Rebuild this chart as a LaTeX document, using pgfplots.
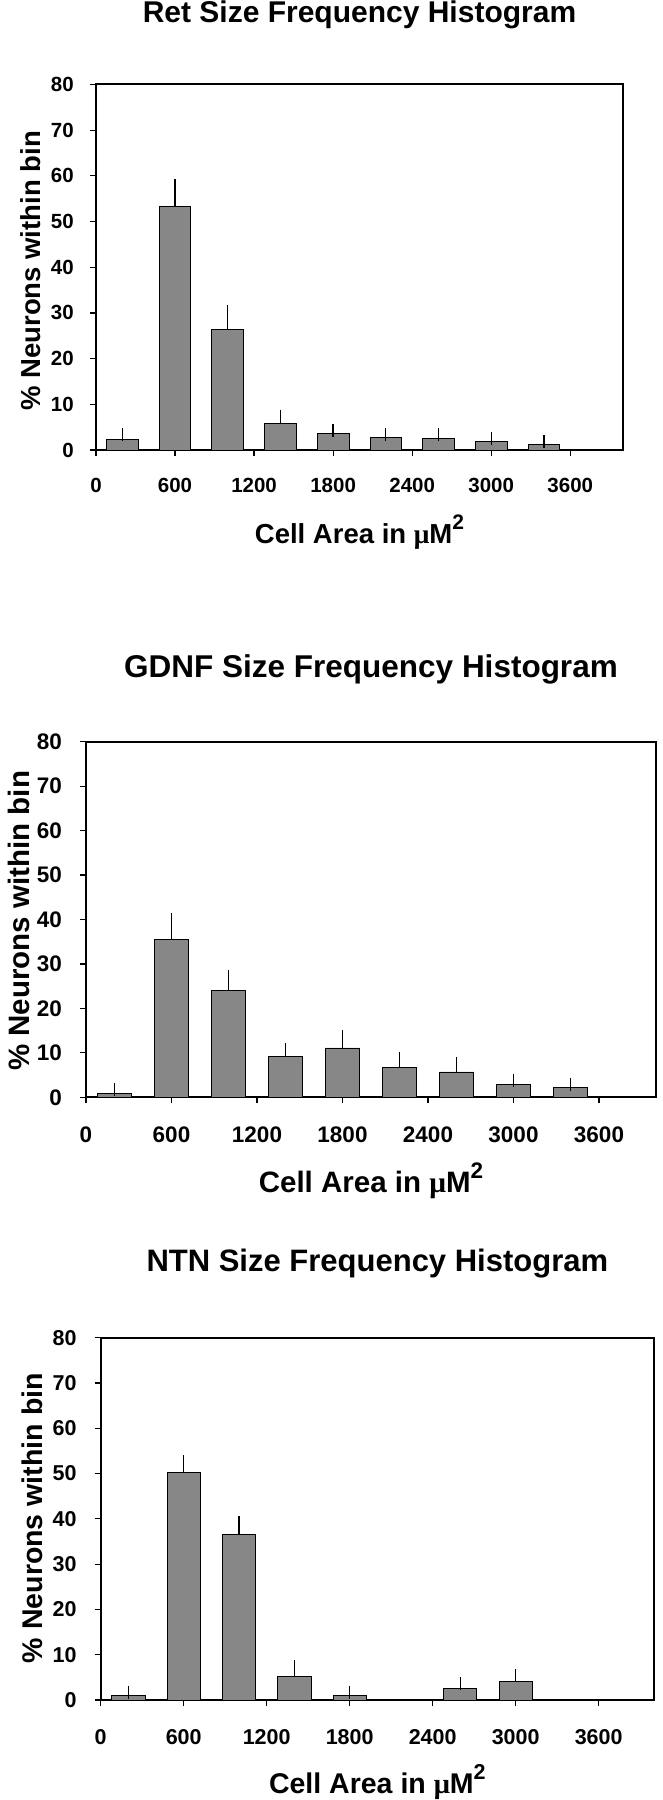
\documentclass[border=0pt]{standalone}
\usepackage{fontspec}
\setmainfont{Liberation Sans}
\newfontfamily\symbfont{Liberation Serif}
\usepackage{pgfplots}
\usepackage{pgfplotstable}
\pgfplotsset{compat=1.18}

\definecolor{barfill}{rgb}{0.53,0.53,0.53}

\pgfplotstableread{
x y e
200 2.4 1.0
600 53.2 4.7
1000 26.3 4.1
1400 5.7 1.7
1800 3.7 0.6
2200 2.8 0.6
2600 2.5 0.8
3000 1.9 0.7
3400 1.25 0.55
}\retdata

\pgfplotstableread{
x y e
200 0.9 0.8
600 35.4 4.7
1000 24.1 3.0
1400 9.2 1.5
1800 11.1 2.5
2200 6.8 2.0
2600 5.7 2.0
3000 2.9 0.8
3400 2.2 0.7
}\gdnfdata

\pgfplotstableread{
x y e
200 0.95 0.75
600 50.2 2.5
1000 36.6 2.5
1400 5.1 2.3
1800 1.0 0.7
2600 2.5 1.1
3000 4.1 1.3
}\ntndata

\pgfplotsset{
  histo/.style={
    scale only axis,
    anchor=south west,
    xmin=0, xmax=4000, ymin=0, ymax=80,
    xtick={0,600,...,3600}, ytick={0,10,...,80},
    axis line style={line width=2pt},
    tick style={black, line width=1.2pt},
    tick align=outside, major tick length=6pt,
    xtick pos=bottom, ytick pos=left,
    /pgf/number format/assume math mode=true,
    /pgf/number format/1000 sep={},
    xticklabel style={anchor=center, inner sep=0pt},
    yticklabel style={anchor=east, inner sep=0pt},
    title style={anchor=base, inner sep=0pt},
    xlabel style={anchor=center},
    ylabel style={anchor=center},
  },
  histbar/.style={
    ybar, bar width=240, fill=barfill, draw=black, line width=0.9pt,
    error bars/.cd, y dir=plus, y explicit,
    error bar style={black, line width=1.1pt},
    error mark options={black, mark size=6.5pt, line width=1.3pt},
  },
}

\begin{document}
\begin{tikzpicture}
\useasboundingbox (0pt,0pt) rectangle (662pt,1800pt);

% Panel 1: Ret
\begin{axis}[histo,
  at={(96pt,1350pt)}, width=527pt, height=365.5pt,
  ticklabel style={font=\bfseries\fontsize{20.5}{20.5}\selectfont},
  xticklabel style={yshift=-29pt},
  yticklabel style={xshift=-16pt},
  title={Ret Size Frequency Histogram},
  title style={at={(axis description cs:0.5,1.152)}, font=\bfseries\fontsize{30}{30}\selectfont},
  xlabel={Cell Area in {\symbfont μ}M\raisebox{0.5em}{\fontsize{21}{21}\selectfont 2}},
  xlabel style={at={(axis description cs:0.5,-0.224)}, font=\bfseries\fontsize{27.5}{27.5}\selectfont},
  ylabel={\% Neurons within bin},
  ylabel style={at={(axis description cs:-0.124,0.49)}, font=\bfseries\fontsize{27.5}{27.5}\selectfont},
]
\addplot[histbar] table[x=x, y=y, y error=e] {\retdata};
\end{axis}

% Panel 2: GDNF
\begin{axis}[histo,
  at={(86pt,702.7pt)}, width=570pt, height=355.6pt,
  ticklabel style={font=\bfseries\fontsize{22.5}{22.5}\selectfont},
  xticklabel style={yshift=-31pt},
  yticklabel style={xshift=-18pt},
  title={GDNF Size Frequency Histogram},
  title style={at={(axis description cs:0.5,1.165)}, font=\bfseries\fontsize{31.5}{31.5}\selectfont},
  xlabel={Cell Area in {\symbfont μ}M\raisebox{0.5em}{\fontsize{22.5}{22.5}\selectfont 2}},
  xlabel style={at={(axis description cs:0.5,-0.235)}, font=\bfseries\fontsize{29.5}{29.5}\selectfont},
  ylabel={\% Neurons within bin},
  ylabel style={at={(axis description cs:-0.118,0.496)}, font=\bfseries\fontsize{29.5}{29.5}\selectfont},
]
\addplot[histbar] table[x=x, y=y, y error=e] {\gdnfdata};
\end{axis}

% Panel 3: NTN
\begin{axis}[histo,
  at={(100.7pt,100pt)}, width=553.3pt, height=362.3pt,
  ticklabel style={font=\bfseries\fontsize{21.5}{21.5}\selectfont},
  xticklabel style={yshift=-31pt},
  yticklabel style={xshift=-18pt},
  title={NTN Size Frequency Histogram},
  title style={at={(axis description cs:0.5,1.167)}, font=\bfseries\fontsize{31}{31}\selectfont},
  xlabel={Cell Area in {\symbfont μ}M\raisebox{0.5em}{\fontsize{21.5}{21.5}\selectfont 2}},
  xlabel style={at={(axis description cs:0.5,-0.226)}, font=\bfseries\fontsize{28.5}{28.5}\selectfont},
  ylabel={\% Neurons within bin},
  ylabel style={at={(axis description cs:-0.123,0.502)}, font=\bfseries\fontsize{28.5}{28.5}\selectfont},
]
\addplot[histbar] table[x=x, y=y, y error=e] {\ntndata};
\end{axis}
\end{tikzpicture}
\end{document}
